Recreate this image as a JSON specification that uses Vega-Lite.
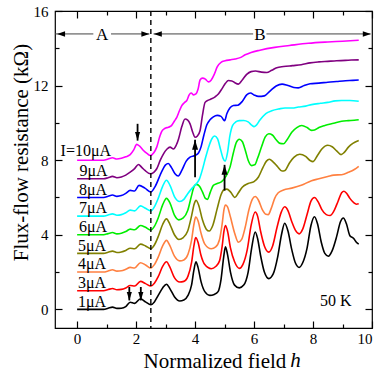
{
  "$schema": "https://vega.github.io/schema/vega-lite/v6.json",
  "autosize": {"type": "none"},
  "width": 317,
  "height": 317,
  "padding": {"left": 55, "top": 11, "right": 10, "bottom": 45},
  "background": "white",
  "config": {
    "view": {"stroke": "black", "strokeWidth": 1.2},
    "font": "Liberation Serif",
    "axis": {"grid": false, "domain": false, "tickColor": "black", "tickWidth": 1.2, "labelFont": "Liberation Serif", "labelFontSize": 15, "labelColor": "black", "titleFont": "Liberation Serif", "titleFontSize": 21, "titleFontWeight": "normal", "titleColor": "black"}
  },
  "datasets": {
    "curves": [
      {"I":"1μA","h":0,"R":0},{"I":"1μA","h":0.5,"R":0},{"I":"1μA","h":0.9,"R":0},{"I":"1μA","h":1.05,"R":0.06},{"I":"1μA","h":1.2,"R":0.12},{"I":"1μA","h":1.35,"R":0.05},{"I":"1μA","h":1.5,"R":0.06},{"I":"1μA","h":1.65,"R":0.15},{"I":"1μA","h":1.8,"R":0.38},{"I":"1μA","h":1.95,"R":0.32},{"I":"1μA","h":2.15,"R":0.57},{"I":"1μA","h":2.32,"R":0.4},{"I":"1μA","h":2.5,"R":0.25},{"I":"1μA","h":2.62,"R":0.4},{"I":"1μA","h":2.75,"R":0.75},{"I":"1μA","h":2.9,"R":1.15},{"I":"1μA","h":3.03,"R":1.35},{"I":"1μA","h":3.15,"R":1.1},{"I":"1μA","h":3.3,"R":0.68},{"I":"1μA","h":3.48,"R":0.45},{"I":"1μA","h":3.62,"R":0.5},{"I":"1μA","h":3.76,"R":0.75},{"I":"1μA","h":3.88,"R":1.3},{"I":"1μA","h":3.96,"R":2.1},{"I":"1μA","h":4.03,"R":2.55},{"I":"1μA","h":4.1,"R":2.25},{"I":"1μA","h":4.2,"R":1.5},{"I":"1μA","h":4.33,"R":0.95},{"I":"1μA","h":4.5,"R":0.75},{"I":"1μA","h":4.65,"R":0.8},{"I":"1μA","h":4.78,"R":0.95},{"I":"1μA","h":4.88,"R":1.6},{"I":"1μA","h":4.97,"R":2.8},{"I":"1μA","h":5.03,"R":3.35},{"I":"1μA","h":5.1,"R":2.95},{"I":"1μA","h":5.2,"R":2.0},{"I":"1μA","h":5.34,"R":1.3},{"I":"1μA","h":5.5,"R":1.15},{"I":"1μA","h":5.65,"R":1.3},{"I":"1μA","h":5.8,"R":2.0},{"I":"1μA","h":5.92,"R":3.3},{"I":"1μA","h":6.04,"R":4.15},{"I":"1μA","h":6.12,"R":3.8},{"I":"1μA","h":6.22,"R":2.9},{"I":"1μA","h":6.35,"R":2.0},{"I":"1μA","h":6.5,"R":1.65},{"I":"1μA","h":6.65,"R":1.9},{"I":"1μA","h":6.8,"R":2.8},{"I":"1μA","h":6.93,"R":4.0},{"I":"1μA","h":7.04,"R":4.62},{"I":"1μA","h":7.15,"R":4.2},{"I":"1μA","h":7.28,"R":3.2},{"I":"1μA","h":7.4,"R":2.5},{"I":"1μA","h":7.53,"R":2.25},{"I":"1μA","h":7.65,"R":2.5},{"I":"1μA","h":7.8,"R":3.3},{"I":"1μA","h":7.93,"R":4.5},{"I":"1μA","h":8.05,"R":4.97},{"I":"1μA","h":8.15,"R":4.6},{"I":"1μA","h":8.28,"R":3.6},{"I":"1μA","h":8.4,"R":3.0},{"I":"1μA","h":8.52,"R":2.85},{"I":"1μA","h":8.65,"R":3.15},{"I":"1μA","h":8.8,"R":3.9},{"I":"1μA","h":8.93,"R":4.7},{"I":"1μA","h":9.03,"R":4.9},{"I":"1μA","h":9.13,"R":4.6},{"I":"1μA","h":9.25,"R":3.95},{"I":"1μA","h":9.38,"R":3.8},{"I":"1μA","h":9.47,"R":3.6},{"I":"1μA","h":9.55,"R":3.5},

      {"I":"3μA","h":0,"R":1},{"I":"3μA","h":0.9,"R":1.0},{"I":"3μA","h":1.05,"R":1.06},{"I":"3μA","h":1.2,"R":1.12},{"I":"3μA","h":1.35,"R":1.05},{"I":"3μA","h":1.5,"R":1.07},{"I":"3μA","h":1.65,"R":1.15},{"I":"3μA","h":1.8,"R":1.28},{"I":"3μA","h":1.95,"R":1.25},{"I":"3μA","h":2.15,"R":1.5},{"I":"3μA","h":2.32,"R":1.38},{"I":"3μA","h":2.5,"R":1.25},{"I":"3μA","h":2.62,"R":1.4},{"I":"3μA","h":2.75,"R":1.75},{"I":"3μA","h":2.9,"R":2.3},{"I":"3μA","h":3.03,"R":2.55},{"I":"3μA","h":3.15,"R":2.25},{"I":"3μA","h":3.3,"R":1.7},{"I":"3μA","h":3.48,"R":1.47},{"I":"3μA","h":3.62,"R":1.5},{"I":"3μA","h":3.76,"R":1.78},{"I":"3μA","h":3.88,"R":2.5},{"I":"3μA","h":3.96,"R":3.4},{"I":"3μA","h":4.02,"R":3.85},{"I":"3μA","h":4.1,"R":3.6},{"I":"3μA","h":4.2,"R":2.9},{"I":"3μA","h":4.33,"R":2.4},{"I":"3μA","h":4.55,"R":2.18},{"I":"3μA","h":4.7,"R":2.3},{"I":"3μA","h":4.83,"R":2.6},{"I":"3μA","h":4.92,"R":3.4},{"I":"3μA","h":4.98,"R":4.2},{"I":"3μA","h":5.03,"R":4.5},{"I":"3μA","h":5.1,"R":4.2},{"I":"3μA","h":5.2,"R":3.3},{"I":"3μA","h":5.34,"R":2.55},{"I":"3μA","h":5.5,"R":2.2},{"I":"3μA","h":5.62,"R":2.4},{"I":"3μA","h":5.77,"R":3.2},{"I":"3μA","h":5.9,"R":4.5},{"I":"3μA","h":6.04,"R":5.22},{"I":"3μA","h":6.12,"R":5.0},{"I":"3μA","h":6.22,"R":4.2},{"I":"3μA","h":6.35,"R":3.4},{"I":"3μA","h":6.5,"R":3.07},{"I":"3μA","h":6.63,"R":3.4},{"I":"3μA","h":6.78,"R":4.4},{"I":"3μA","h":6.92,"R":5.2},{"I":"3μA","h":7.04,"R":5.5},{"I":"3μA","h":7.15,"R":5.3},{"I":"3μA","h":7.28,"R":4.7},{"I":"3μA","h":7.4,"R":4.25},{"I":"3μA","h":7.53,"R":4.05},{"I":"3μA","h":7.65,"R":4.3},{"I":"3μA","h":7.8,"R":5.1},{"I":"3μA","h":7.93,"R":5.8},{"I":"3μA","h":8.05,"R":6.0},{"I":"3μA","h":8.18,"R":5.75},{"I":"3μA","h":8.3,"R":5.35},{"I":"3μA","h":8.45,"R":5.08},{"I":"3μA","h":8.58,"R":5.03},{"I":"3μA","h":8.7,"R":5.25},{"I":"3μA","h":8.85,"R":5.8},{"I":"3μA","h":8.97,"R":6.25},{"I":"3μA","h":9.05,"R":6.33},{"I":"3μA","h":9.15,"R":6.2},{"I":"3μA","h":9.25,"R":5.95},{"I":"3μA","h":9.38,"R":5.72},{"I":"3μA","h":9.47,"R":5.64},{"I":"3μA","h":9.55,"R":5.66},

      {"I":"4μA","h":0,"R":2},{"I":"4μA","h":0.9,"R":2.0},{"I":"4μA","h":1.05,"R":2.06},{"I":"4μA","h":1.2,"R":2.12},{"I":"4μA","h":1.35,"R":2.05},{"I":"4μA","h":1.5,"R":2.07},{"I":"4μA","h":1.65,"R":2.15},{"I":"4μA","h":1.8,"R":2.25},{"I":"4μA","h":1.95,"R":2.22},{"I":"4μA","h":2.15,"R":2.5},{"I":"4μA","h":2.32,"R":2.38},{"I":"4μA","h":2.5,"R":2.22},{"I":"4μA","h":2.62,"R":2.4},{"I":"4μA","h":2.75,"R":2.8},{"I":"4μA","h":2.9,"R":3.4},{"I":"4μA","h":3.03,"R":3.7},{"I":"4μA","h":3.15,"R":3.4},{"I":"4μA","h":3.3,"R":2.85},{"I":"4μA","h":3.48,"R":2.6},{"I":"4μA","h":3.62,"R":2.65},{"I":"4μA","h":3.76,"R":2.95},{"I":"4μA","h":3.88,"R":3.7},{"I":"4μA","h":3.96,"R":4.55},{"I":"4μA","h":4.02,"R":4.95},{"I":"4μA","h":4.1,"R":4.75},{"I":"4μA","h":4.2,"R":4.1},{"I":"4μA","h":4.33,"R":3.5},{"I":"4μA","h":4.55,"R":3.25},{"I":"4μA","h":4.7,"R":3.35},{"I":"4μA","h":4.83,"R":3.75},{"I":"4μA","h":4.92,"R":4.6},{"I":"4μA","h":4.98,"R":5.35},{"I":"4μA","h":5.03,"R":5.6},{"I":"4μA","h":5.1,"R":5.5},{"I":"4μA","h":5.2,"R":4.95},{"I":"4μA","h":5.34,"R":4.1},{"I":"4μA","h":5.47,"R":3.6},{"I":"4μA","h":5.58,"R":3.75},{"I":"4μA","h":5.7,"R":4.4},{"I":"4μA","h":5.82,"R":5.3},{"I":"4μA","h":5.94,"R":5.9},{"I":"4μA","h":6.04,"R":6.05},{"I":"4μA","h":6.15,"R":5.85},{"I":"4μA","h":6.28,"R":5.35},{"I":"4μA","h":6.4,"R":5.1},{"I":"4μA","h":6.48,"R":5.08},{"I":"4μA","h":6.58,"R":5.4},{"I":"4μA","h":6.7,"R":5.95},{"I":"4μA","h":6.82,"R":6.25},{"I":"4μA","h":7.0,"R":6.4},{"I":"4μA","h":7.28,"R":6.5},{"I":"4μA","h":7.6,"R":6.65},{"I":"4μA","h":7.95,"R":6.9},{"I":"4μA","h":8.2,"R":7.0},{"I":"4μA","h":8.5,"R":7.12},{"I":"4μA","h":8.7,"R":7.2},{"I":"4μA","h":8.97,"R":7.22},{"I":"4μA","h":9.2,"R":7.35},{"I":"4μA","h":9.4,"R":7.5},{"I":"4μA","h":9.55,"R":7.67},

      {"I":"5μA","h":0,"R":3},{"I":"5μA","h":0.9,"R":3.0},{"I":"5μA","h":1.05,"R":3.06},{"I":"5μA","h":1.2,"R":3.12},{"I":"5μA","h":1.35,"R":3.05},{"I":"5μA","h":1.5,"R":3.08},{"I":"5μA","h":1.65,"R":3.16},{"I":"5μA","h":1.8,"R":3.28},{"I":"5μA","h":1.95,"R":3.25},{"I":"5μA","h":2.15,"R":3.5},{"I":"5μA","h":2.32,"R":3.4},{"I":"5μA","h":2.5,"R":3.25},{"I":"5μA","h":2.62,"R":3.45},{"I":"5μA","h":2.75,"R":3.9},{"I":"5μA","h":2.9,"R":4.55},{"I":"5μA","h":3.03,"R":4.85},{"I":"5μA","h":3.15,"R":4.55},{"I":"5μA","h":3.3,"R":4.0},{"I":"5μA","h":3.45,"R":3.75},{"I":"5μA","h":3.6,"R":3.85},{"I":"5μA","h":3.75,"R":4.2},{"I":"5μA","h":3.88,"R":5.0},{"I":"5μA","h":3.97,"R":5.65},{"I":"5μA","h":4.03,"R":5.85},{"I":"5μA","h":4.12,"R":5.6},{"I":"5μA","h":4.25,"R":4.8},{"I":"5μA","h":4.38,"R":4.3},{"I":"5μA","h":4.48,"R":4.2},{"I":"5μA","h":4.6,"R":4.5},{"I":"5μA","h":4.75,"R":5.4},{"I":"5μA","h":4.88,"R":6.15},{"I":"5μA","h":4.97,"R":6.4},{"I":"5μA","h":5.08,"R":6.45},{"I":"5μA","h":5.2,"R":6.3},{"I":"5μA","h":5.35,"R":6.0},{"I":"5μA","h":5.47,"R":6.25},{"I":"5μA","h":5.6,"R":6.55},{"I":"5μA","h":5.8,"R":6.75},{"I":"5μA","h":6.0,"R":6.85},{"I":"5μA","h":6.15,"R":7.1},{"I":"5μA","h":6.3,"R":7.6},{"I":"5μA","h":6.42,"R":7.95},{"I":"5μA","h":6.52,"R":8.05},{"I":"5μA","h":6.65,"R":7.9},{"I":"5μA","h":6.8,"R":7.65},{"I":"5μA","h":6.95,"R":7.42},{"I":"5μA","h":7.05,"R":7.45},{"I":"5μA","h":7.2,"R":7.85},{"I":"5μA","h":7.35,"R":8.15},{"I":"5μA","h":7.55,"R":8.32},{"I":"5μA","h":7.75,"R":8.2},{"I":"5μA","h":7.9,"R":7.98},{"I":"5μA","h":8.0,"R":7.92},{"I":"5μA","h":8.15,"R":8.25},{"I":"5μA","h":8.3,"R":8.6},{"I":"5μA","h":8.5,"R":8.8},{"I":"5μA","h":8.65,"R":8.72},{"I":"5μA","h":8.8,"R":8.5},{"I":"5μA","h":8.95,"R":8.3},{"I":"5μA","h":9.05,"R":8.4},{"I":"5μA","h":9.2,"R":8.7},{"I":"5μA","h":9.35,"R":8.9},{"I":"5μA","h":9.55,"R":9.05},

      {"I":"6μA","h":0,"R":4},{"I":"6μA","h":0.9,"R":4.0},{"I":"6μA","h":1.05,"R":4.06},{"I":"6μA","h":1.2,"R":4.12},{"I":"6μA","h":1.35,"R":4.05},{"I":"6μA","h":1.5,"R":4.08},{"I":"6μA","h":1.65,"R":4.17},{"I":"6μA","h":1.8,"R":4.3},{"I":"6μA","h":1.95,"R":4.27},{"I":"6μA","h":2.15,"R":4.5},{"I":"6μA","h":2.32,"R":4.4},{"I":"6μA","h":2.5,"R":4.25},{"I":"6μA","h":2.62,"R":4.45},{"I":"6μA","h":2.75,"R":4.9},{"I":"6μA","h":2.9,"R":5.6},{"I":"6μA","h":3.03,"R":5.95},{"I":"6μA","h":3.15,"R":5.7},{"I":"6μA","h":3.3,"R":5.05},{"I":"6μA","h":3.45,"R":4.8},{"I":"6μA","h":3.6,"R":4.9},{"I":"6μA","h":3.75,"R":5.3},{"I":"6μA","h":3.88,"R":6.1},{"I":"6μA","h":3.97,"R":6.6},{"I":"6μA","h":4.05,"R":6.7},{"I":"6μA","h":4.15,"R":6.6},{"I":"6μA","h":4.25,"R":6.3},{"I":"6μA","h":4.35,"R":5.95},{"I":"6μA","h":4.42,"R":5.9},{"I":"6μA","h":4.52,"R":6.3},{"I":"6μA","h":4.62,"R":6.65},{"I":"6μA","h":4.75,"R":6.75},{"I":"6μA","h":4.9,"R":6.85},{"I":"6μA","h":5.05,"R":7.15},{"I":"6μA","h":5.18,"R":7.6},{"I":"6μA","h":5.3,"R":8.4},{"I":"6μA","h":5.4,"R":8.95},{"I":"6μA","h":5.5,"R":9.12},{"I":"6μA","h":5.6,"R":9.0},{"I":"6μA","h":5.7,"R":8.55},{"I":"6μA","h":5.8,"R":8.0},{"I":"6μA","h":5.92,"R":7.71},{"I":"6μA","h":6.02,"R":7.75},{"I":"6μA","h":6.12,"R":8.1},{"I":"6μA","h":6.26,"R":8.75},{"I":"6μA","h":6.38,"R":9.25},{"I":"6μA","h":6.5,"R":9.42},{"I":"6μA","h":6.62,"R":9.35},{"I":"6μA","h":6.75,"R":9.1},{"I":"6μA","h":6.88,"R":8.9},{"I":"6μA","h":7.0,"R":8.88},{"I":"6μA","h":7.12,"R":9.1},{"I":"6μA","h":7.28,"R":9.5},{"I":"6μA","h":7.45,"R":9.75},{"I":"6μA","h":7.62,"R":9.86},{"I":"6μA","h":7.8,"R":9.75},{"I":"6μA","h":7.95,"R":9.6},{"I":"6μA","h":8.05,"R":9.62},{"I":"6μA","h":8.2,"R":9.75},{"I":"6μA","h":8.4,"R":9.86},{"I":"6μA","h":8.7,"R":9.98},{"I":"6μA","h":8.97,"R":10.09},{"I":"6μA","h":9.2,"R":10.12},{"I":"6μA","h":9.4,"R":10.14},{"I":"6μA","h":9.55,"R":10.17},

      {"I":"7μA","h":0,"R":5},{"I":"7μA","h":0.9,"R":5.0},{"I":"7μA","h":1.05,"R":5.06},{"I":"7μA","h":1.2,"R":5.12},{"I":"7μA","h":1.35,"R":5.05},{"I":"7μA","h":1.5,"R":5.08},{"I":"7μA","h":1.65,"R":5.18},{"I":"7μA","h":1.8,"R":5.32},{"I":"7μA","h":1.95,"R":5.28},{"I":"7μA","h":2.15,"R":5.55},{"I":"7μA","h":2.32,"R":5.42},{"I":"7μA","h":2.5,"R":5.28},{"I":"7μA","h":2.62,"R":5.5},{"I":"7μA","h":2.75,"R":5.95},{"I":"7μA","h":2.9,"R":6.6},{"I":"7μA","h":3.03,"R":6.92},{"I":"7μA","h":3.15,"R":6.65},{"I":"7μA","h":3.3,"R":6.05},{"I":"7μA","h":3.48,"R":5.78},{"I":"7μA","h":3.62,"R":5.9},{"I":"7μA","h":3.75,"R":6.2},{"I":"7μA","h":3.9,"R":6.5},{"I":"7μA","h":4.05,"R":6.75},{"I":"7μA","h":4.15,"R":7.0},{"I":"7μA","h":4.25,"R":7.5},{"I":"7μA","h":4.35,"R":8.1},{"I":"7μA","h":4.47,"R":8.75},{"I":"7μA","h":4.57,"R":9.15},{"I":"7μA","h":4.66,"R":9.3},{"I":"7μA","h":4.76,"R":9.15},{"I":"7μA","h":4.86,"R":8.6},{"I":"7μA","h":4.95,"R":8.1},{"I":"7μA","h":5.02,"R":7.95},{"I":"7μA","h":5.1,"R":8.4},{"I":"7μA","h":5.18,"R":9.3},{"I":"7μA","h":5.27,"R":9.85},{"I":"7μA","h":5.38,"R":10.05},{"I":"7μA","h":5.5,"R":10.12},{"I":"7μA","h":5.65,"R":10.13},{"I":"7μA","h":5.8,"R":10.05},{"I":"7μA","h":5.92,"R":9.88},{"I":"7μA","h":6.0,"R":9.8},{"I":"7μA","h":6.08,"R":9.88},{"I":"7μA","h":6.2,"R":10.15},{"I":"7μA","h":6.4,"R":10.5},{"I":"7μA","h":6.6,"R":10.65},{"I":"7μA","h":6.85,"R":10.75},{"I":"7μA","h":7.05,"R":10.8},{"I":"7μA","h":7.3,"R":10.8},{"I":"7μA","h":7.5,"R":10.85},{"I":"7μA","h":7.75,"R":10.9},{"I":"7μA","h":7.95,"R":10.98},{"I":"7μA","h":8.25,"R":11.05},{"I":"7μA","h":8.5,"R":11.1},{"I":"7μA","h":8.75,"R":11.18},{"I":"7μA","h":8.97,"R":11.2},{"I":"7μA","h":9.25,"R":11.2},{"I":"7μA","h":9.55,"R":11.16},

      {"I":"8μA","h":0,"R":6},{"I":"8μA","h":0.9,"R":6.0},{"I":"8μA","h":1.05,"R":6.06},{"I":"8μA","h":1.2,"R":6.13},{"I":"8μA","h":1.35,"R":6.06},{"I":"8μA","h":1.5,"R":6.1},{"I":"8μA","h":1.65,"R":6.22},{"I":"8μA","h":1.8,"R":6.38},{"I":"8μA","h":1.95,"R":6.35},{"I":"8μA","h":2.1,"R":6.65},{"I":"8μA","h":2.3,"R":6.5},{"I":"8μA","h":2.5,"R":6.29},{"I":"8μA","h":2.65,"R":6.6},{"I":"8μA","h":2.86,"R":7.36},{"I":"8μA","h":3.0,"R":7.75},{"I":"8μA","h":3.09,"R":7.82},{"I":"8μA","h":3.2,"R":7.6},{"I":"8μA","h":3.32,"R":7.27},{"I":"8μA","h":3.43,"R":7.15},{"I":"8μA","h":3.55,"R":7.45},{"I":"8μA","h":3.7,"R":7.95},{"I":"8μA","h":3.83,"R":8.16},{"I":"8μA","h":4.0,"R":8.25},{"I":"8μA","h":4.12,"R":8.4},{"I":"8μA","h":4.2,"R":8.7},{"I":"8μA","h":4.3,"R":9.35},{"I":"8μA","h":4.4,"R":9.9},{"I":"8μA","h":4.5,"R":10.15},{"I":"8μA","h":4.62,"R":10.32},{"I":"8μA","h":4.75,"R":10.4},{"I":"8μA","h":4.88,"R":10.35},{"I":"8μA","h":4.95,"R":10.2},{"I":"8μA","h":5.0,"R":10.12},{"I":"8μA","h":5.08,"R":10.5},{"I":"8μA","h":5.18,"R":10.8},{"I":"8μA","h":5.3,"R":10.93},{"I":"8μA","h":5.45,"R":10.95},{"I":"8μA","h":5.6,"R":11.15},{"I":"8μA","h":5.75,"R":11.5},{"I":"8μA","h":5.88,"R":11.6},{"I":"8μA","h":6.0,"R":11.5},{"I":"8μA","h":6.15,"R":11.42},{"I":"8μA","h":6.35,"R":11.45},{"I":"8μA","h":6.55,"R":11.72},{"I":"8μA","h":6.75,"R":11.98},{"I":"8μA","h":6.95,"R":12.08},{"I":"8μA","h":7.15,"R":12.0},{"I":"8μA","h":7.35,"R":11.9},{"I":"8μA","h":7.5,"R":11.88},{"I":"8μA","h":7.7,"R":12.0},{"I":"8μA","h":7.9,"R":12.1},{"I":"8μA","h":8.2,"R":12.13},{"I":"8μA","h":8.5,"R":12.18},{"I":"8μA","h":8.8,"R":12.22},{"I":"8μA","h":9.1,"R":12.26},{"I":"8μA","h":9.35,"R":12.28},{"I":"8μA","h":9.55,"R":12.3},

      {"I":"9μA","h":0,"R":7},{"I":"9μA","h":0.9,"R":7.0},{"I":"9μA","h":1.05,"R":7.06},{"I":"9μA","h":1.2,"R":7.13},{"I":"9μA","h":1.35,"R":7.06},{"I":"9μA","h":1.5,"R":7.1},{"I":"9μA","h":1.65,"R":7.2},{"I":"9μA","h":1.8,"R":7.36},{"I":"9μA","h":1.95,"R":7.55},{"I":"9μA","h":2.08,"R":7.77},{"I":"9μA","h":2.2,"R":7.6},{"I":"9μA","h":2.3,"R":7.45},{"I":"9μA","h":2.48,"R":7.27},{"I":"9μA","h":2.6,"R":7.35},{"I":"9μA","h":2.7,"R":7.54},{"I":"9μA","h":2.82,"R":8.0},{"I":"9μA","h":2.93,"R":8.34},{"I":"9μA","h":3.05,"R":8.6},{"I":"9μA","h":3.15,"R":8.7},{"I":"9μA","h":3.27,"R":8.6},{"I":"9μA","h":3.36,"R":8.8},{"I":"9μA","h":3.44,"R":9.14},{"I":"9μA","h":3.55,"R":9.8},{"I":"9μA","h":3.66,"R":10.21},{"I":"9μA","h":3.75,"R":10.15},{"I":"9μA","h":3.83,"R":9.95},{"I":"9μA","h":3.92,"R":9.5},{"I":"9μA","h":4.0,"R":9.23},{"I":"9μA","h":4.08,"R":9.3},{"I":"9μA","h":4.17,"R":9.59},{"I":"9μA","h":4.25,"R":10.4},{"I":"9μA","h":4.34,"R":11.1},{"I":"9μA","h":4.45,"R":11.22},{"I":"9μA","h":4.56,"R":11.29},{"I":"9μA","h":4.68,"R":11.4},{"I":"9μA","h":4.79,"R":11.55},{"I":"9μA","h":4.92,"R":11.85},{"I":"9μA","h":5.03,"R":12.12},{"I":"9μA","h":5.13,"R":12.27},{"I":"9μA","h":5.25,"R":12.25},{"I":"9μA","h":5.35,"R":12.15},{"I":"9μA","h":5.47,"R":12.08},{"I":"9μA","h":5.6,"R":12.3},{"I":"9μA","h":5.75,"R":12.6},{"I":"9μA","h":5.9,"R":12.75},{"I":"9μA","h":6.05,"R":12.78},{"I":"9μA","h":6.25,"R":12.72},{"I":"9μA","h":6.43,"R":12.7},{"I":"9μA","h":6.6,"R":12.82},{"I":"9μA","h":6.77,"R":12.96},{"I":"9μA","h":7.0,"R":13.02},{"I":"9μA","h":7.3,"R":13.07},{"I":"9μA","h":7.6,"R":13.12},{"I":"9μA","h":7.9,"R":13.22},{"I":"9μA","h":8.2,"R":13.27},{"I":"9μA","h":8.5,"R":13.3},{"I":"9μA","h":8.8,"R":13.33},{"I":"9μA","h":9.1,"R":13.35},{"I":"9μA","h":9.3,"R":13.37},{"I":"9μA","h":9.55,"R":13.38},

      {"I":"10μA","h":0,"R":8},{"I":"10μA","h":0.9,"R":8.0},{"I":"10μA","h":1.05,"R":8.06},{"I":"10μA","h":1.2,"R":8.13},{"I":"10μA","h":1.35,"R":8.06},{"I":"10μA","h":1.5,"R":8.1},{"I":"10μA","h":1.65,"R":8.18},{"I":"10μA","h":1.8,"R":8.3},{"I":"10μA","h":1.92,"R":8.55},{"I":"10μA","h":2.02,"R":8.85},{"I":"10μA","h":2.12,"R":8.75},{"I":"10μA","h":2.25,"R":8.52},{"I":"10μA","h":2.38,"R":8.35},{"I":"10μA","h":2.48,"R":8.25},{"I":"10μA","h":2.6,"R":8.4},{"I":"10μA","h":2.7,"R":8.7},{"I":"10μA","h":2.8,"R":9.25},{"I":"10μA","h":2.87,"R":9.55},{"I":"10μA","h":2.97,"R":9.7},{"I":"10μA","h":3.1,"R":9.77},{"I":"10μA","h":3.2,"R":9.85},{"I":"10μA","h":3.3,"R":10.1},{"I":"10μA","h":3.38,"R":10.3},{"I":"10μA","h":3.47,"R":10.65},{"I":"10μA","h":3.55,"R":10.93},{"I":"10μA","h":3.65,"R":11.1},{"I":"10μA","h":3.72,"R":11.2},{"I":"10μA","h":3.8,"R":11.5},{"I":"10μA","h":3.87,"R":11.6},{"I":"10μA","h":3.95,"R":11.5},{"I":"10μA","h":4.03,"R":11.55},{"I":"10μA","h":4.1,"R":11.8},{"I":"10μA","h":4.17,"R":12.3},{"I":"10μA","h":4.25,"R":12.4},{"I":"10μA","h":4.35,"R":12.35},{"I":"10μA","h":4.45,"R":12.2},{"I":"10μA","h":4.55,"R":12.3},{"I":"10μA","h":4.65,"R":12.6},{"I":"10μA","h":4.75,"R":13.0},{"I":"10μA","h":4.88,"R":13.25},{"I":"10μA","h":5.02,"R":13.33},{"I":"10μA","h":5.19,"R":13.38},{"I":"10μA","h":5.36,"R":13.43},{"I":"10μA","h":5.53,"R":13.5},{"I":"10μA","h":5.7,"R":13.65},{"I":"10μA","h":5.9,"R":13.78},{"I":"10μA","h":6.2,"R":13.9},{"I":"10μA","h":6.7,"R":14.05},{"I":"10μA","h":7.2,"R":14.15},{"I":"10μA","h":7.84,"R":14.27},{"I":"10μA","h":8.5,"R":14.34},{"I":"10μA","h":9.0,"R":14.38},{"I":"10μA","h":9.55,"R":14.43}
    ],
    "labels": [
      {"I":"1μA","label":"1μA","h":0.03,"R":0.15},
      {"I":"3μA","label":"3μA","h":0.03,"R":1.15},
      {"I":"4μA","label":"4μA","h":0.03,"R":2.15},
      {"I":"5μA","label":"5μA","h":0.03,"R":3.15},
      {"I":"6μA","label":"6μA","h":0.06,"R":4.15},
      {"I":"7μA","label":"7μA","h":0.06,"R":5.15},
      {"I":"8μA","label":"8μA","h":0.06,"R":6.15},
      {"I":"9μA","label":"9μA","h":0.08,"R":7.15},
      {"I":"10μA","label":"I=10μA","h":-0.56,"R":8.25}
    ],
    "arrows": [
      {"h":2.05,"tail":9.95,"tip":9.05,"dir":"down"},
      {"h":1.77,"tail":1.2,"tip":0.48,"dir":"down"},
      {"h":2.16,"tail":1.2,"tip":0.48,"dir":"down"},
      {"h":4.0,"tail":7.09,"tip":9.09,"dir":"up"},
      {"h":5.0,"tail":6.37,"tip":7.75,"dir":"up"}
    ],
    "spans": [
      {"h":-0.75,"h2":0.55,"R":14.77},
      {"h":1.15,"h2":2.45,"R":14.77},
      {"h":2.59,"h2":5.97,"R":14.77},
      {"h":6.42,"h2":9.95,"R":14.77}
    ],
    "spanHeads": [
      {"h":-0.68,"R":14.77,"dir":"left"},
      {"h":2.45,"R":14.77,"dir":"right"},
      {"h":2.6,"R":14.77,"dir":"left"},
      {"h":9.96,"R":14.77,"dir":"right"}
    ],
    "spanText": [
      {"label":"A","h":0.85,"R":14.77},
      {"label":"B","h":6.2,"R":14.77}
    ],
    "notes": [
      {"label":"50 K","h":8.24,"R":0.18}
    ],
    "divider": [{"h":2.5}],
    "anchor": [{"h":0,"R":0}],
    "titleH": [{"label":"h","h":7.23,"R":-3.09}]
  },
  "resolve": {"axis": {"x": "independent", "y": "independent"}},
  "layer": [
    {
      "data": {"name": "curves"},
      "mark": {"type": "line", "interpolate": "monotone", "strokeWidth": 1.6},
      "encoding": {
        "x": {"field": "h", "type": "quantitative", "scale": {"domain": [-0.75, 10], "nice": false, "zero": false},
              "axis": {"orient": "bottom", "values": [0, 2, 4, 6, 8, 10], "tickSize": -7, "labelPadding": 10, "title": "Normalized field", "titleAnchor": "start", "titleAlign": "left", "titleBaseline": "alphabetic", "titleX": 88, "titleY": 39}},
        "y": {"field": "R", "type": "quantitative", "scale": {"domain": [-1, 16], "nice": false, "zero": false},
              "axis": {"orient": "left", "values": [0, 4, 8, 12, 16], "tickSize": -7, "labelPadding": 14, "title": "Flux-flow resistance (kΩ)", "titleAngle": -90, "titleAlign": "center", "titleBaseline": "alphabetic", "titleX": -28, "titleY": 141}},
        "color": {"field": "I", "type": "nominal", "legend": null,
                  "scale": {"domain": ["1μA","3μA","4μA","5μA","6μA","7μA","8μA","9μA","10μA"],
                            "range": ["#000000","#ff0000","#ff8040","#808000","#00ee00","#00ffff","#0000ff","#800080","#ff00ff"]}}
      }
    },
    {
      "data": {"name": "anchor"},
      "mark": {"type": "point", "opacity": 0},
      "encoding": {
        "x": {"field": "h", "type": "quantitative", "scale": {"domain": [-0.75, 10], "nice": false, "zero": false},
              "axis": {"orient": "bottom", "values": [1, 3, 5, 7, 9], "tickSize": -4, "labels": false, "title": null}},
        "y": {"field": "R", "type": "quantitative", "scale": {"domain": [-1, 16], "nice": false, "zero": false},
              "axis": {"orient": "left", "values": [2, 6, 10, 14], "tickSize": -4, "labels": false, "title": null}}
      }
    },
    {
      "data": {"name": "anchor"},
      "mark": {"type": "point", "opacity": 0},
      "encoding": {
        "x": {"field": "h", "type": "quantitative", "scale": {"domain": [-0.75, 10], "nice": false, "zero": false},
              "axis": {"orient": "top", "values": [0, 2, 4, 6, 8, 10], "tickSize": -7, "labels": false, "title": null}},
        "y": {"field": "R", "type": "quantitative", "scale": {"domain": [-1, 16], "nice": false, "zero": false},
              "axis": {"orient": "right", "values": [0, 4, 8, 12, 16], "tickSize": -7, "labels": false, "title": null}}
      }
    },
    {
      "data": {"name": "anchor"},
      "mark": {"type": "point", "opacity": 0},
      "encoding": {
        "x": {"field": "h", "type": "quantitative", "scale": {"domain": [-0.75, 10], "nice": false, "zero": false},
              "axis": {"orient": "top", "values": [1, 3, 5, 7, 9], "tickSize": -4, "labels": false, "title": null}},
        "y": {"field": "R", "type": "quantitative", "scale": {"domain": [-1, 16], "nice": false, "zero": false},
              "axis": {"orient": "right", "values": [2, 6, 10, 14], "tickSize": -4, "labels": false, "title": null}}
      }
    },
    {
      "data": {"name": "divider"},
      "mark": {"type": "rule", "color": "black", "strokeWidth": 1.4, "strokeDash": [5, 4]},
      "encoding": {
        "x": {"field": "h", "type": "quantitative", "scale": {"domain": [-0.75, 10], "nice": false, "zero": false}, "axis": null}
      }
    },
    {
      "data": {"name": "spans"},
      "mark": {"type": "rule", "color": "#444444", "strokeWidth": 1},
      "encoding": {
        "x": {"field": "h", "type": "quantitative", "scale": {"domain": [-0.75, 10], "nice": false, "zero": false}, "axis": null},
        "x2": {"field": "h2"},
        "y": {"field": "R", "type": "quantitative", "scale": {"domain": [-1, 16], "nice": false, "zero": false}, "axis": null}
      }
    },
    {
      "data": {"name": "spanHeads"},
      "transform": [{"filter": "datum.dir === 'left'"}],
      "mark": {"type": "point", "shape": "M0,0 L2,-0.7 L2,0.7 Z", "size": 64, "filled": true, "color": "black", "opacity": 1},
      "encoding": {
        "x": {"field": "h", "type": "quantitative", "scale": {"domain": [-0.75, 10], "nice": false, "zero": false}, "axis": null},
        "y": {"field": "R", "type": "quantitative", "scale": {"domain": [-1, 16], "nice": false, "zero": false}, "axis": null}
      }
    },
    {
      "data": {"name": "spanHeads"},
      "transform": [{"filter": "datum.dir === 'right'"}],
      "mark": {"type": "point", "shape": "M0,0 L-2,-0.7 L-2,0.7 Z", "size": 64, "filled": true, "color": "black", "opacity": 1},
      "encoding": {
        "x": {"field": "h", "type": "quantitative", "scale": {"domain": [-0.75, 10], "nice": false, "zero": false}, "axis": null},
        "y": {"field": "R", "type": "quantitative", "scale": {"domain": [-1, 16], "nice": false, "zero": false}, "axis": null}
      }
    },
    {
      "data": {"name": "spanText"},
      "mark": {"type": "text", "font": "Liberation Serif", "fontSize": 17, "color": "black", "align": "center", "baseline": "middle", "dy": 1},
      "encoding": {
        "x": {"field": "h", "type": "quantitative", "scale": {"domain": [-0.75, 10], "nice": false, "zero": false}, "axis": null},
        "y": {"field": "R", "type": "quantitative", "scale": {"domain": [-1, 16], "nice": false, "zero": false}, "axis": null},
        "text": {"field": "label"}
      }
    },
    {
      "data": {"name": "arrows"},
      "mark": {"type": "rule", "color": "black", "strokeWidth": 1.8},
      "encoding": {
        "x": {"field": "h", "type": "quantitative", "scale": {"domain": [-0.75, 10], "nice": false, "zero": false}, "axis": null},
        "y": {"field": "tail", "type": "quantitative", "scale": {"domain": [-1, 16], "nice": false, "zero": false}, "axis": null},
        "y2": {"field": "tip"}
      }
    },
    {
      "data": {"name": "arrows"},
      "transform": [{"filter": "datum.dir === 'up'"}],
      "mark": {"type": "point", "shape": "M0,0 L-0.6,2 L0.6,2 Z", "size": 100, "filled": true, "color": "black", "opacity": 1},
      "encoding": {
        "x": {"field": "h", "type": "quantitative", "scale": {"domain": [-0.75, 10], "nice": false, "zero": false}, "axis": null},
        "y": {"field": "tip", "type": "quantitative", "scale": {"domain": [-1, 16], "nice": false, "zero": false}, "axis": null}
      }
    },
    {
      "data": {"name": "arrows"},
      "transform": [{"filter": "datum.dir === 'down'"}],
      "mark": {"type": "point", "shape": "M0,0 L-0.6,-2 L0.6,-2 Z", "size": 72, "filled": true, "color": "black", "opacity": 1},
      "encoding": {
        "x": {"field": "h", "type": "quantitative", "scale": {"domain": [-0.75, 10], "nice": false, "zero": false}, "axis": null},
        "y": {"field": "tip", "type": "quantitative", "scale": {"domain": [-1, 16], "nice": false, "zero": false}, "axis": null}
      }
    },
    {
      "data": {"name": "labels"},
      "mark": {"type": "text", "font": "Liberation Serif", "fontSize": 16, "color": "black", "align": "left", "baseline": "alphabetic"},
      "encoding": {
        "x": {"field": "h", "type": "quantitative", "scale": {"domain": [-0.75, 10], "nice": false, "zero": false}, "axis": null},
        "y": {"field": "R", "type": "quantitative", "scale": {"domain": [-1, 16], "nice": false, "zero": false}, "axis": null},
        "text": {"field": "label"}
      }
    },
    {
      "data": {"name": "notes"},
      "mark": {"type": "text", "font": "Liberation Serif", "fontSize": 16, "color": "black", "align": "left", "baseline": "alphabetic"},
      "encoding": {
        "x": {"field": "h", "type": "quantitative", "scale": {"domain": [-0.75, 10], "nice": false, "zero": false}, "axis": null},
        "y": {"field": "R", "type": "quantitative", "scale": {"domain": [-1, 16], "nice": false, "zero": false}, "axis": null},
        "text": {"field": "label"}
      }
    },
    {
      "data": {"name": "titleH"},
      "mark": {"type": "text", "font": "Liberation Serif", "fontSize": 21, "fontStyle": "italic", "color": "black", "align": "left", "baseline": "alphabetic"},
      "encoding": {
        "x": {"field": "h", "type": "quantitative", "scale": {"domain": [-0.75, 10], "nice": false, "zero": false}, "axis": null},
        "y": {"field": "R", "type": "quantitative", "scale": {"domain": [-1, 16], "nice": false, "zero": false}, "axis": null},
        "text": {"field": "label"}
      }
    }
  ]
}
